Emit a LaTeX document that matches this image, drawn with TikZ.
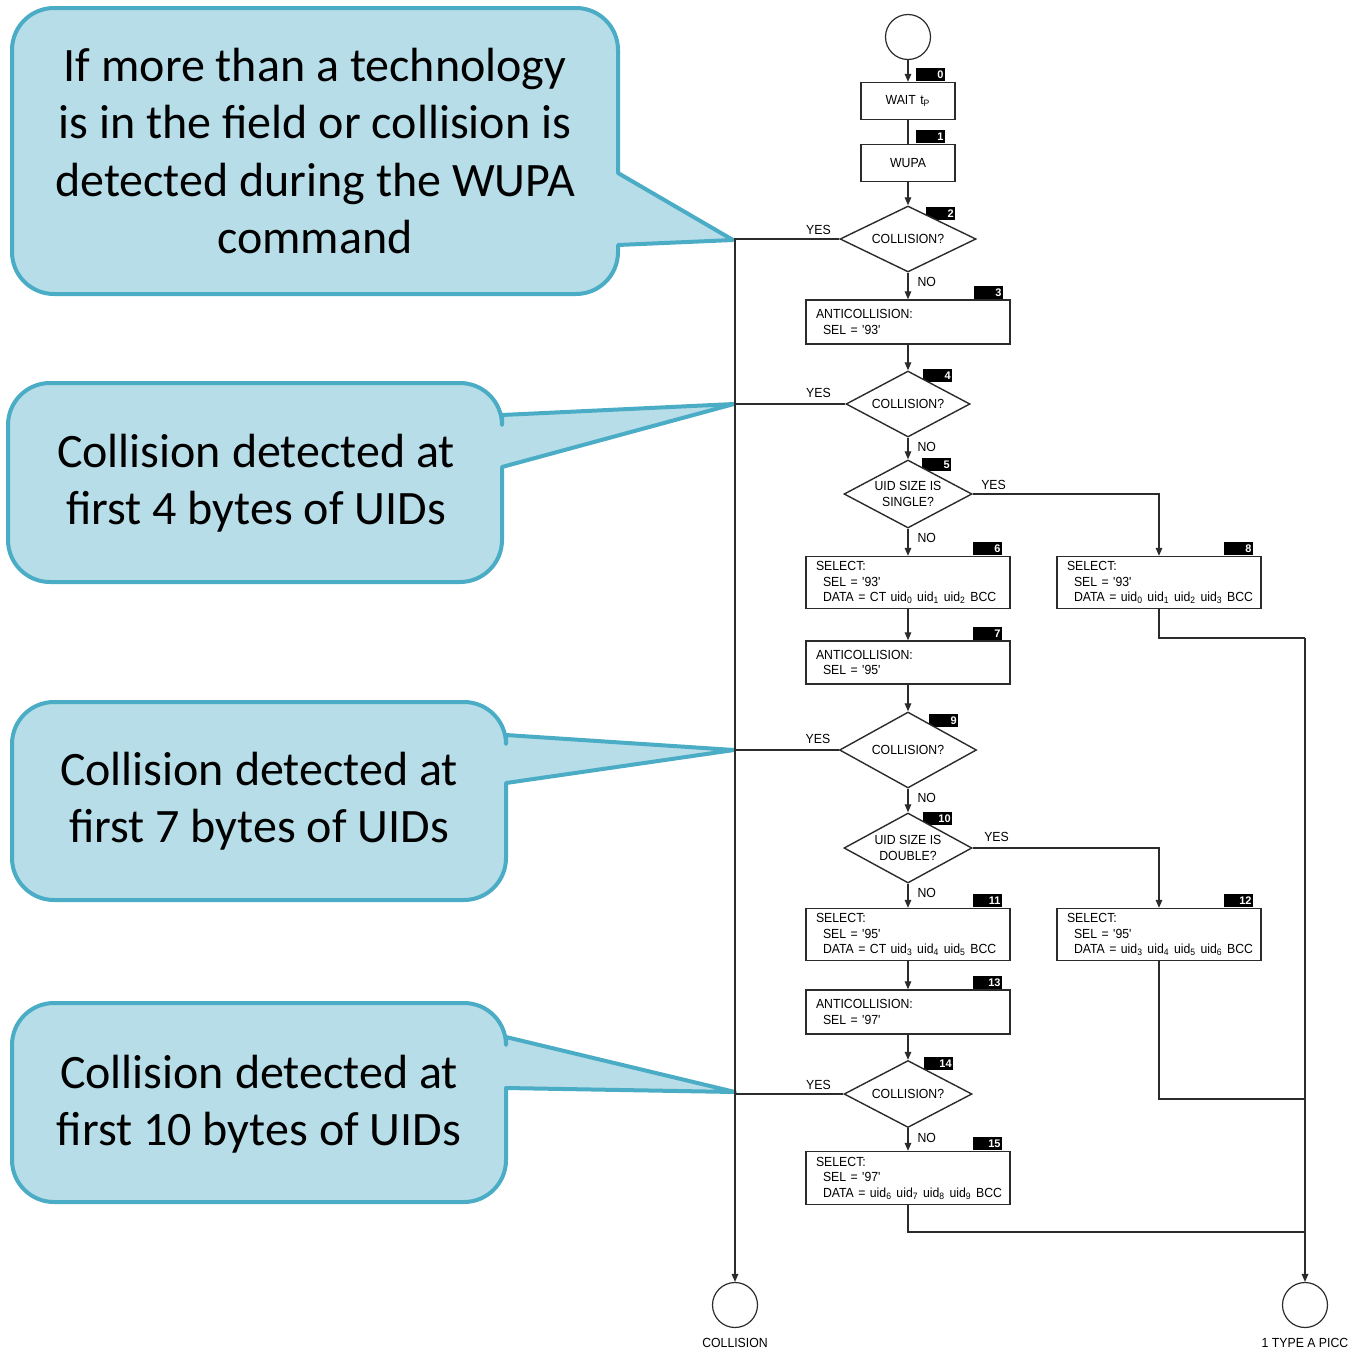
\documentclass[tikz,border=0pt]{standalone}
\usepackage{fontspec}
\setmainfont{Liberation Sans}
\newfontfamily\calloutfont{Carlito}
\newfontfamily\chartfamily[FakeStretch=0.93]{Liberation Sans}
\usepackage{tikz}
\usetikzlibrary{shapes.geometric,arrows.meta,positioning,calc,backgrounds}
\definecolor{bubbleFill}{HTML}{B7DDE8}
\definecolor{bubbleLine}{HTML}{4BACC6}
\definecolor{chartInk}{HTML}{2B2B2B}
\newcommand{\chartfont}{\chartfamily\fontsize{6.6pt}{7.75pt}\selectfont}
\newcommand{\bubblefont}{\calloutfont\fontsize{24pt}{28.6pt}\selectfont}
% speech bubble: left, top, right, bottom, pointer top, tip x, tip y, pointer bottom
\newcommand{\bubblepath}[8]{%
  (#3,#8) -- (#3,#4-42) arc[start angle=0,end angle=90,radius=42]
  -- (#1+42,#4) arc[start angle=90,end angle=180,radius=42]
  -- (#1,#2+42) arc[start angle=180,end angle=270,radius=42]
  -- (#3-42,#2) arc[start angle=270,end angle=360,radius=42]
  -- (#3,#5) -- (#6,#7) -- cycle}
\tikzset{
    chartBox/.style={
        rectangle, draw=chartInk, line width=0.7pt, fill=white,
        minimum width=102pt, text width=92pt, inner xsep=5pt, inner ysep=1pt,
        align=left, font=\chartfont
    },
    smallBox/.style={chartBox, minimum width=47pt, text width=37pt, align=center, minimum height=18.5pt},
    decision/.style={
        diamond, aspect=2, draw=chartInk, line width=0.7pt, fill=white,
        inner sep=0pt, align=center, font=\chartfont
    },
    terminal/.style={circle, draw=chartInk, line width=0.6pt, minimum size=22.5pt, inner sep=0pt},
    stepTag/.style={
        fill=black, text=white, font=\fontsize{5.5pt}{6pt}\selectfont\bfseries,
        minimum width=14.5pt, minimum height=6.5pt, inner sep=0pt,
        text width=12.8pt, align=right
    },
    bubble/.style={fill=bubbleFill, draw=bubbleLine, line width=2pt, line join=round}
}
\newcommand{\ind}[1]{\mbox{\hspace*{3.5pt}#1}}
\newcommand{\uid}[1]{uid\textsubscript{#1}}

\begin{document}
\begin{tikzpicture}[
    x=0.5pt, y=-0.5pt,
    arr/.style={-{Triangle[length=4pt,width=3.3pt]}, draw=chartInk, line width=0.6pt},
    line/.style={draw=chartInk, line width=0.6pt},
    yes/.style={font=\chartfont, inner sep=0pt, anchor=south east, xshift=-4pt, yshift=2pt},
    yesR/.style={font=\chartfont, inner sep=0pt, anchor=south west, xshift=4pt, yshift=2pt},
    no/.style={font=\chartfont, inner sep=0pt, anchor=north west, xshift=4.5pt, yshift=-2pt}
]
\useasboundingbox (0,0) rectangle (1355,1355);

% callouts
\draw[bubble] \bubblepath{12}{8}{618}{294}{173}{733}{240}{245};
\node[font=\bubblefont, align=center] (note1) at (315,151)
    {If more than a technology\\is in the field or collision is\\detected during the WUPA\\command};
\draw[bubble] \bubblepath{8}{383}{502}{582}{415}{734}{404}{467};
\node[font=\bubblefont, align=center] (note2) at (256,483) {Collision detected at\\first 4 bytes of UIDs};
\draw[bubble] \bubblepath{12}{702}{506}{900}{735}{734}{750}{783};
\node[font=\bubblefont, align=center] (note3) at (259,801) {Collision detected at\\first 7 bytes of UIDs};
\draw[bubble] \bubblepath{12}{1003}{506}{1202}{1037}{735}{1092}{1088};
\node[font=\bubblefont, align=center] (note4) at (259,1104) {Collision detected at\\first 10 bytes of UIDs};

% flow chart
\node[terminal] (start) at (908,37) {};
\node[smallBox] (b0) at (908,101) {WAIT t\textsubscript{P}};
\node[smallBox] (b1) at (908,163) {WUPA};
\node[decision, minimum width=68pt, minimum height=33pt] (d2) at (908,239) {COLLISION?};
\node[chartBox, minimum height=22pt] (b3) at (908,322) {ANTICOLLISION:\\\ind{SEL = '93'}};
\node[decision, minimum width=62pt, minimum height=33pt] (d4) at (908,404) {COLLISION?};
\node[decision, minimum width=64pt, minimum height=34pt] (d5) at (908,494) {UID SIZE IS\\SINGLE?};
\node[chartBox, minimum height=26pt] (b6) at (908,582.5)
    {SELECT:\\\ind{SEL = '93'}\\\ind{DATA = CT \uid0 \uid1 \uid2 BCC}};
\node[chartBox, minimum height=26pt] (b8) at (1159,582.5)
    {SELECT:\\\ind{SEL = '93'}\\\ind{DATA = \uid0 \uid1 \uid2 \uid3 BCC}};
\node[chartBox, minimum height=21.5pt] (b7) at (908,662.5) {ANTICOLLISION:\\\ind{SEL = '95'}};
\node[decision, minimum width=68.5pt, minimum height=38pt] (d9) at (908,750) {COLLISION?};
\node[decision, minimum width=64pt, minimum height=35pt] (d10) at (908,848) {UID SIZE IS\\DOUBLE?};
\node[chartBox, minimum height=26pt] (b11) at (908,934.5)
    {SELECT:\\\ind{SEL = '95'}\\\ind{DATA = CT \uid3 \uid4 \uid5 BCC}};
\node[chartBox, minimum height=26pt] (b12) at (1159,934.5)
    {SELECT:\\\ind{SEL = '95'}\\\ind{DATA = \uid3 \uid4 \uid5 \uid6 BCC}};
\node[chartBox, minimum height=22pt] (b13) at (908,1012) {ANTICOLLISION:\\\ind{SEL = '97'}};
\node[decision, minimum width=64pt, minimum height=33.5pt] (d14) at (908,1094) {COLLISION?};
\node[chartBox, minimum height=26.5pt] (b15) at (908,1178)
    {SELECT:\\\ind{SEL = '97'}\\\ind{DATA = \uid6 \uid7 \uid8 \uid9 BCC}};
\node[terminal, label={[font=\chartfont, inner sep=0pt, label distance=5pt]below:COLLISION}] (coll) at (735,1305) {};
\node[terminal, label={[font=\chartfont, inner sep=0pt, label distance=5pt]below:1 TYPE A PICC}] (picc) at (1305,1305) {};

% step numbers
\begin{scope}[on background layer]
\node[stepTag, anchor=south east] (t0) at ([xshift=-5pt]b0.north east) {0};
\node[stepTag, anchor=south east] (t1) at ([xshift=-5pt]b1.north east) {1};
\node[stepTag, anchor=south west] (t2) at ([shift={(18,15)}]d2.north) {2};
\node[stepTag, anchor=south east] (t3) at ([xshift=-3.5pt]b3.north east) {3};
\node[stepTag, anchor=south west] (t4) at ([shift={(15,12)}]d4.north) {4};
\node[stepTag, anchor=south west] (t5) at ([shift={(14,12)}]d5.north) {5};
\node[stepTag, anchor=south east] (t6) at ([xshift=-4pt]b6.north east) {6};
\node[stepTag, anchor=south east] (t7) at ([xshift=-4pt]b7.north east) {7};
\node[stepTag, anchor=south east] (t8) at ([xshift=-4pt]b8.north east) {8};
\node[stepTag, anchor=south west] (t9) at ([shift={(21,16)}]d9.north) {9};
\node[stepTag, anchor=south west] (t10) at ([shift={(15,13)}]d10.north) {10};
\node[stepTag, anchor=south east] (t11) at ([xshift=-4pt]b11.north east) {11};
\node[stepTag, anchor=south east] (t12) at ([xshift=-4pt]b12.north east) {12};
\node[stepTag, anchor=south east] (t13) at ([xshift=-4pt]b13.north east) {13};
\node[stepTag, anchor=south west] (t14) at ([shift={(16,11)}]d14.north) {14};
\node[stepTag, anchor=south east] (t15) at ([xshift=-4pt]b15.north east) {15};
\end{scope}

% main column
\draw[arr] (start) -- (b0);
\draw[line] (b0) -- (b1);
\draw[arr] (b1) -- (d2.north);
\draw[arr] (d2.south) -- (b3) node[no, pos=0] {NO};
\draw[arr] (b3) -- (d4.north);
\draw[arr] (d4.south) -- (d5.north) node[no, pos=0] {NO};
\draw[arr] (d5.south) -- (b6) node[no, pos=0] {NO};
\draw[arr] (b6) -- (b7);
\draw[arr] (b7) -- (d9.north);
\draw[arr] (d9.south) -- (d10.north) node[no, pos=0] {NO};
\draw[arr] (d10.south) -- (b11) node[no, pos=0] {NO};
\draw[arr] (b11) -- (b13);
\draw[arr] (b13) -- (d14.north);
\draw[arr] (d14.south) -- (b15) node[no, pos=0] {NO};

% collision exits
\draw[arr] (d2.west) -| (coll.north) node[yes, pos=0] {YES};
\draw[line] (d4.west) -- (d4.west -| coll.north) node[yes, pos=0, xshift=-3pt, yshift=1pt] {YES};
\draw[line] (d9.west) -- (d9.west -| coll.north) node[yes, pos=0, yshift=1pt] {YES};
\draw[line] (d14.west) -- (d14.west -| coll.north) node[yes, pos=0, xshift=-2pt] {YES};

% uid size branches
\draw[arr] (d5.east) -| (b8.north) node[yesR, pos=0] {YES};
\draw[arr] (d10.east) -| (b12.north) node[yesR, pos=0, xshift=1.5pt, yshift=1pt] {YES};

% done, one picc
\coordinate (j8) at (1305,638);
\coordinate (j12) at (1305,1099);
\coordinate (j15) at (1305,1232);
\draw[line] (b8.south) |- (j8);
\draw[line] (b12.south) |- (j12);
\draw[line] (b15.south) |- (j15);
\draw[arr] (j8) -- (picc.north);
\end{tikzpicture}
\end{document}
